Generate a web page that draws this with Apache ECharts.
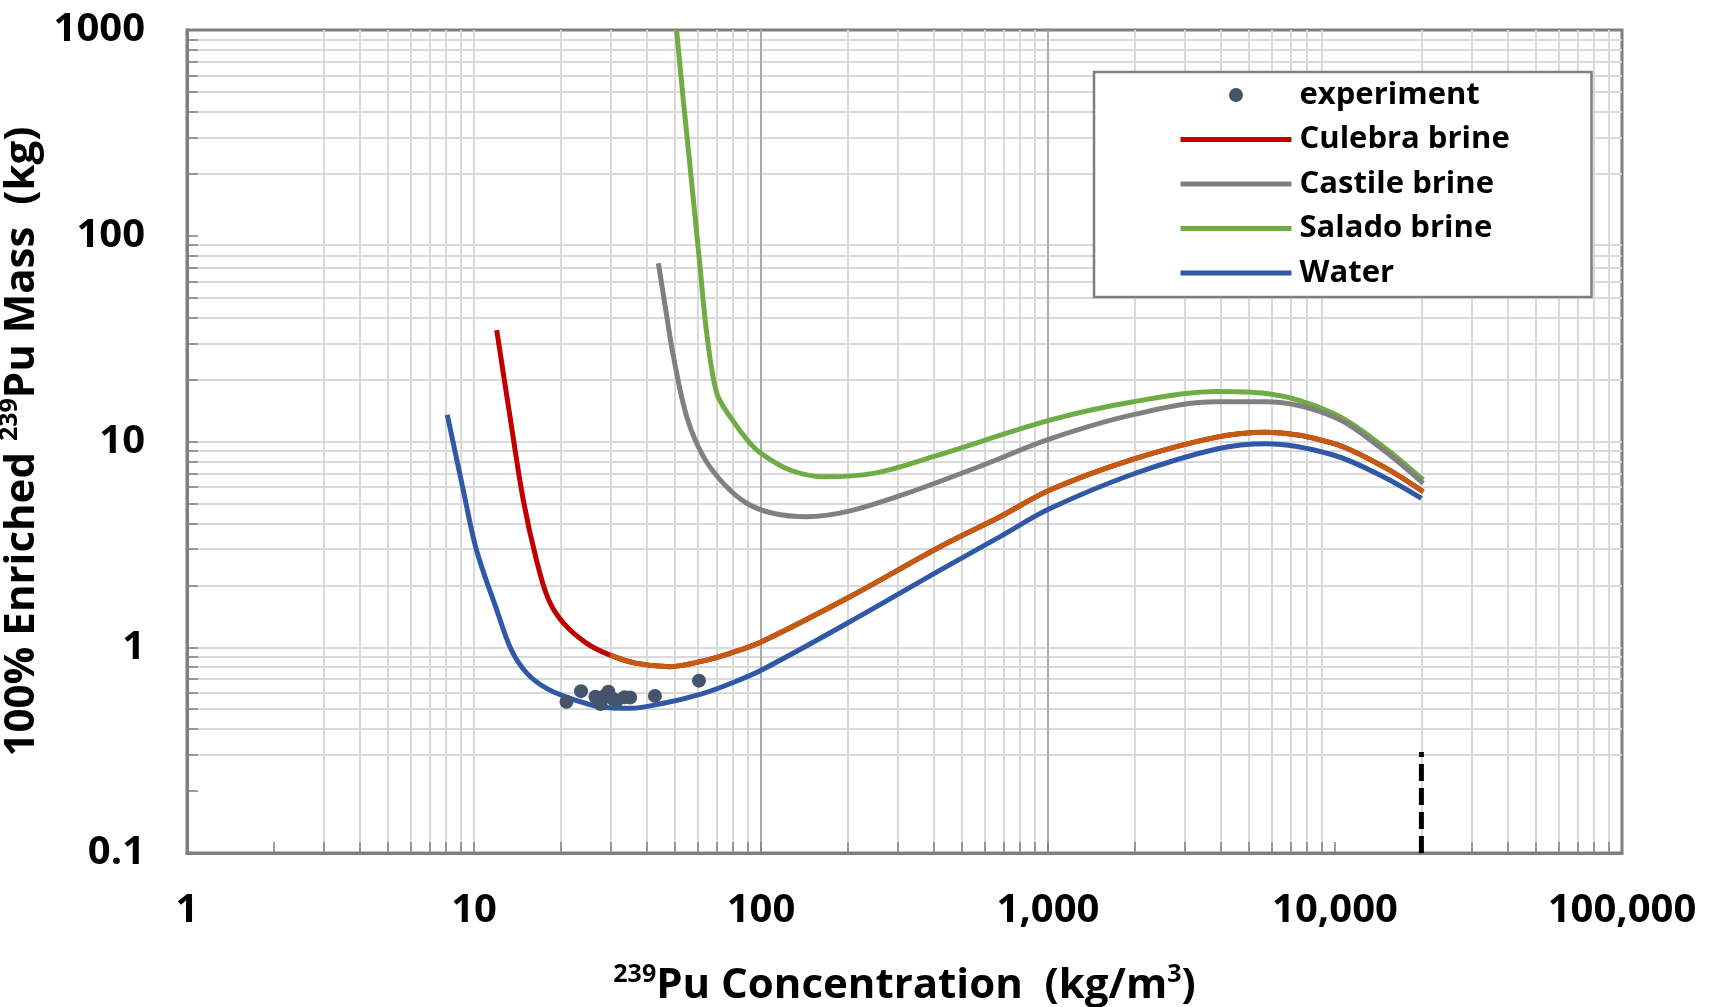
<!DOCTYPE html>
<html>
<head>
<meta charset="utf-8">
<script src="https://cdn.jsdelivr.net/npm/echarts@6/dist/echarts.min.js"></script>
<style>
html, body { margin: 0; padding: 0; background: #ffffff; }
#chart { width: 1714px; height: 1007px; }
</style>
</head>
<body>
<div id="chart"></div>
<script>
// ---------- data ----------
const xTickValues = [1, 10, 100, 1000, 10000, 100000];
const xTickLabels = ['1', '10', '100', '1,000', '10,000', '100,000'];
const yTickValues = [0.1, 1, 10, 100, 1000];
const yTickLabels = ['0.1', '1', '10', '100', '1000'];
const seriesNames = ['experiment', 'Culebra brine', 'Castile brine', 'Salado brine', 'Water'];

// [239Pu concentration (kg/m3), critical mass (kg)]
const experiment = [
  [21.0, 0.543], [23.6, 0.612], [26.5, 0.575], [27.6, 0.530], [28.5, 0.580],
  [29.4, 0.608], [30.5, 0.560], [31.5, 0.552], [33.5, 0.572], [35.0, 0.570],
  [42.7, 0.580], [60.8, 0.688]
];
const culebra = [
  [12.0, 34.8], [13.35, 13.2], [14.85, 5.2], [16.5, 2.66],
  [18.2, 1.70], [20.5, 1.31], [24.7, 1.045], [29.8, 0.916], [36.9, 0.835], [48.2, 0.805],
  [61.3, 0.851], [78, 0.935], [100.5, 1.064], [204, 1.76], [421, 3.08], [681, 4.31],
  [1016, 5.81], [1983, 8.2], [3870, 10.5], [5780, 11.1], [9860, 9.8], [14730, 7.55], [20300, 5.7]
];
const castile = [
  [43.9, 73.5], [46.9, 41], [49.5, 26], [55.1, 13.2], [63, 8.44], [73.9, 6.26],
  [89.2, 5.01], [110, 4.48], [144, 4.31], [199, 4.56], [322, 5.6], [595, 7.69],
  [1016, 10.3], [1983, 13.5], [3870, 15.6], [5780, 15.6], [9860, 13.2], [14730, 9.1], [20300, 6.26]
];
const salado = [
  [50.8, 1000], [53.6, 457], [56.6, 217], [61.3, 70.8], [64.7, 33.6], [70.1, 17.2],
  [78, 13.2], [91.6, 9.8], [101.8, 8.6], [126, 7.27], [165, 6.74], [246, 7.0], [398, 8.44],
  [1016, 12.7], [1983, 15.6], [3870, 17.5], [5780, 17.1], [9860, 13.7], [14730, 9.44], [20300, 6.5]
];
const water = [
  [8.07, 13.5], [9.2, 5.7], [10.2, 2.97], [12.0, 1.52], [13.5, 0.97], [15.3, 0.747],
  [17.9, 0.631], [21.6, 0.565], [27.5, 0.514], [35.0, 0.505], [45.7, 0.534], [61.3, 0.59],
  [78, 0.665], [100.5, 0.775], [204, 1.33], [421, 2.37], [681, 3.45], [1016, 4.72],
  [1983, 6.95], [3870, 9.2], [5780, 9.75], [9860, 8.6], [14730, 6.74], [20000, 5.29]
];
const limitLine = [[20000, 0.1], [20000, 0.31]];
const culebraOrangeFrom = 29.8;

// ---------- helpers ----------
function minorValues(majors) {
  const out = [];
  for (let i = 0; i < majors.length - 1; i++) {
    for (let m = 2; m <= 9; m++) out.push(+(majors[i] * m).toPrecision(6));
  }
  return out;
}
const xInnerMajors = xTickValues.slice(1, -1);
const yInnerMajors = yTickValues.slice(1, -1);
const xAllTicks = minorValues(xTickValues).concat(xInnerMajors);
const yAllTicks = minorValues(yTickValues).concat(yInnerMajors);

const FONT = "'Open Sans', 'Noto Sans', sans-serif";
const AXIS_GRAY = '#7f7f7f';
const MINOR_GRAY = '#d9d9d9';
const LINE_W = 5;

function labelFor(values, labels) {
  return function (v) {
    for (let i = 0; i < values.length; i++) {
      if (Math.abs(Math.log10(v) - Math.log10(values[i])) < 1e-6) return labels[i];
    }
    return '';
  };
}

const chart = echarts.init(document.getElementById('chart'), null, { renderer: 'canvas' });

const option = {
  animation: false,
  backgroundColor: '#ffffff',
  grid: {
    left: 187, right: 92, top: 30, bottom: 154,
    containLabel: false, outerBoundsMode: 'none',
    show: true, borderColor: AXIS_GRAY, borderWidth: 3, backgroundColor: 'transparent'
  },
  xAxis: [
    {
      type: 'log', logBase: 10, min: 1, max: 100000, gridIndex: 0, position: 'bottom',
      axisLine: { show: true, lineStyle: { color: AXIS_GRAY, width: 3 } },
      axisTick: { show: true, inside: true, length: 11, customValues: xAllTicks,
                  lineStyle: { color: AXIS_GRAY, width: 1.5 } },
      axisLabel: {
        show: true, customValues: xTickValues, margin: 38,
        formatter: labelFor(xTickValues, xTickLabels),
        fontFamily: FONT, fontWeight: 'bold', fontSize: 40, color: '#000'
      },
      splitLine: { show: true, showMinLine: false, showMaxLine: false,
                   lineStyle: { color: MINOR_GRAY, width: 2 } },
      name: '{sup|239}{t|Pu Concentration  (kg/m}{sup|3}{t|)}',
      nameLocation: 'middle', nameGap: 109,
      nameTextStyle: {
        fontFamily: FONT, fontWeight: 'bold', fontSize: 42, color: '#000',
        rich: {
          t: { fontFamily: FONT, fontWeight: 'bold', fontSize: 42, lineHeight: 48, color: '#000' },
          sup: { fontFamily: FONT, fontWeight: 'bold', fontSize: 25, lineHeight: 32, verticalAlign: 'top', color: '#000' }
        }
      }
    },
    {
      type: 'log', logBase: 10, min: 1, max: 100000, gridIndex: 0, position: 'top',
      axisLine: { show: false },
      axisTick: { show: false, customValues: xInnerMajors },
      axisLabel: { show: false },
      splitLine: { show: true, showMinLine: false, showMaxLine: false,
                   lineStyle: { color: '#9a9a9a', width: 1.5 } }
    }
  ],
  yAxis: [
    {
      type: 'log', logBase: 10, min: 0.1, max: 1000, gridIndex: 0, position: 'left',
      axisLine: { show: true, lineStyle: { color: AXIS_GRAY, width: 3 } },
      axisTick: { show: true, inside: true, length: 11, customValues: yAllTicks,
                  lineStyle: { color: AXIS_GRAY, width: 1.5 } },
      axisLabel: {
        show: true, customValues: yTickValues, margin: 42,
        formatter: labelFor(yTickValues, yTickLabels),
        fontFamily: FONT, fontWeight: 'bold', fontSize: 40, color: '#000'
      },
      splitLine: { show: true, showMinLine: false, showMaxLine: false,
                   lineStyle: { color: MINOR_GRAY, width: 2 } },
      name: '{t|100% Enriched }{sup|239}{t|Pu Mass  (kg)}',
      nameLocation: 'middle', nameGap: 124, nameRotate: 90,
      nameTextStyle: {
        fontFamily: FONT, fontWeight: 'bold', fontSize: 42, color: '#000',
        rich: {
          t: { fontFamily: FONT, fontWeight: 'bold', fontSize: 42, lineHeight: 48, color: '#000' },
          sup: { fontFamily: FONT, fontWeight: 'bold', fontSize: 25, lineHeight: 32, verticalAlign: 'top', color: '#000' }
        }
      }
    }
  ],
  legend: {
    orient: 'vertical', left: 1094, top: 72,
    padding: [6, 76, 7, 84],
    backgroundColor: '#ffffff', borderColor: AXIS_GRAY, borderWidth: 2.5,
    itemWidth: 111, itemHeight: 14, itemGap: 10.5,
    lineStyle: { width: LINE_W },
    textStyle: { fontFamily: FONT, fontWeight: 'bold', fontSize: 31, lineHeight: 34, color: '#000',
                 width: 216, padding: [0, 0, 0, 3] },
    data: seriesNames.map(function (n) {
      return n === 'experiment' ? { name: n } : { name: n, itemStyle: { opacity: 0 } };
    })
  },
  series: [
    {
      name: 'Culebra brine', type: 'line', data: culebra, symbol: 'none',
      smooth: 0.35, z: 3,
      lineStyle: { color: '#C00000', width: LINE_W }, itemStyle: { color: '#C00000' }
    },
    {
      name: 'Culebra brine (overlay)', type: 'line', symbol: 'none',
      data: culebra.filter(function (p) { return p[0] >= culebraOrangeFrom; }),
      smooth: 0.35, z: 3,
      lineStyle: { color: '#C55A11', width: LINE_W }, itemStyle: { color: '#C55A11' }
    },
    {
      name: 'Castile brine', type: 'line', data: castile, symbol: 'none',
      smooth: 0.35, z: 3,
      lineStyle: { color: '#808080', width: LINE_W }, itemStyle: { color: '#808080' }
    },
    {
      name: 'Salado brine', type: 'line', data: salado, symbol: 'none',
      smooth: 0.35, z: 2,
      lineStyle: { color: '#6FAC46', width: LINE_W }, itemStyle: { color: '#6FAC46' }
    },
    {
      name: 'Water', type: 'line', data: water, symbol: 'none',
      smooth: 0.35, z: 3,
      lineStyle: { color: '#2F58A6', width: LINE_W }, itemStyle: { color: '#2F58A6' }
    },
    {
      name: 'experiment', type: 'scatter', data: experiment, symbol: 'circle', symbolSize: 14, z: 4,
      itemStyle: { color: '#44546A', opacity: 1 }
    },
    {
      name: 'limit', type: 'line', data: limitLine, symbol: 'none', z: 4,
      lineStyle: { color: '#000000', width: 5, type: [17, 7] }
    }
  ]
};
chart.setOption(option);
</script>
</body>
</html>
